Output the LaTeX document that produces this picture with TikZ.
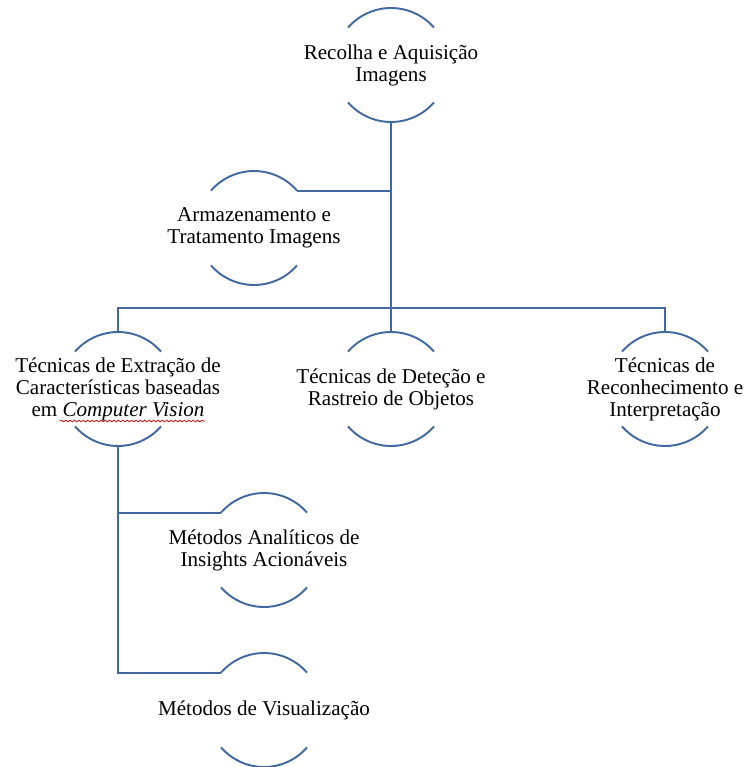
\documentclass[tikz,border=0pt]{standalone}
\usepackage{fontspec}
\setmainfont{Liberation Serif}
\usetikzlibrary{decorations.pathmorphing}
\definecolor{linkblue}{RGB}{65,105,160}

\begin{document}
\begin{tikzpicture}[x=0.02cm, y=-0.02cm,
  topic/.style={align=center, inner sep=0pt, font=\fontsize{12}{12.5}\selectfont},
  link/.style={draw=linkblue, line width=1.1pt},
  spell/.style={draw=red!80!black, line width=0.4pt, decorate,
    decoration={snake, amplitude=0.5pt, segment length=2.5pt}}]
 \useasboundingbox (0,0) rectangle (746,767);

 \node[topic] (recolha) at (391,65) {Recolha e Aquisição\\Imagens};
 \node[topic] (armazen) at (254,228) {Armazenamento e\\Tratamento Imagens};
 \node[topic] (extracao) at (118,389) {Técnicas de Extração de\\Características baseadas\\em \textit{Computer Vision}};
 \node[topic] (detecao) at (391,389) {Técnicas de Deteção e\\Rastreio de Objetos};
 \node[topic] (reconhec) at (665,389) {Técnicas de\\Reconhecimento e\\Interpretação};
 \node[topic] (analit) at (264,550) {Métodos Analíticos de\\Insights Acionáveis};
 \node[topic] (visual) at (264,710) {Métodos de Visualização};

 % open circles round each topic
 \foreach \n in {recolha,armazen,extracao,detecao,reconhec,analit,visual} {
  \draw[link] ([shift={(41:1.14cm)}]\n.center) arc[start angle=41, end angle=139, radius=1.14cm];
  \draw[link] ([shift={(-41:1.14cm)}]\n.center) arc[start angle=-41, end angle=-139, radius=1.14cm];
  \coordinate (\n-n) at ([shift={(90:1.14cm)}]\n.center);
  \coordinate (\n-s) at ([shift={(-90:1.14cm)}]\n.center);
  \coordinate (\n-ne) at ([shift={(41:1.14cm)}]\n.center);
  \coordinate (\n-nw) at ([shift={(139:1.14cm)}]\n.center);
 }

 \coordinate (split) at (391,308);

 \draw[link] (recolha-s) -- (detecao-n);
 \draw[link] (armazen-ne) -- (armazen-ne -| recolha-s);
 \draw[link] (extracao-n) |- (split) -| (reconhec-n);
 \draw[link] (extracao-s) |- (visual-nw);
 \draw[link] (analit-nw) -- (analit-nw -| extracao-s);

 \draw[spell] (60,421) -- (205,421);
\end{tikzpicture}
\end{document}
